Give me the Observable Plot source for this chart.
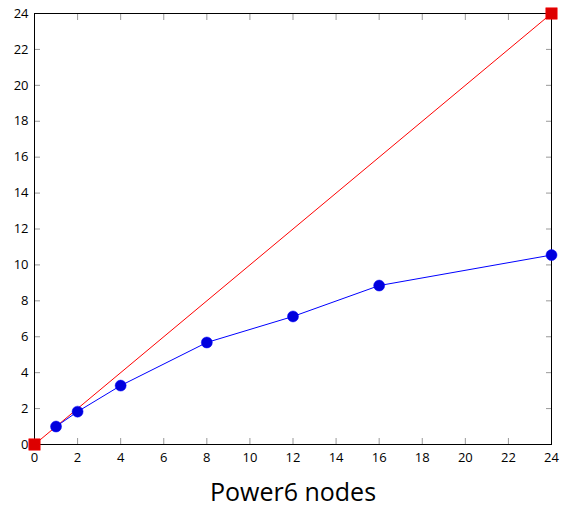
<!DOCTYPE html>
<html><head><meta charset="utf-8">
<script src="https://cdn.jsdelivr.net/npm/d3@7"></script>
<script src="https://cdn.jsdelivr.net/npm/@observablehq/plot@0.6"></script>
<style>
body{margin:0;background:#fff;}
svg{font-family:"Open Sans",sans-serif;}
</style>
</head><body><div id="chart"></div>
<script>
const nodes = [1, 2, 4, 8, 12, 16, 24];
const speedup = [1.0, 1.83, 3.28, 5.68, 7.13, 8.85, 10.55];
const idealX = [0, 24];
const idealY = [0, 24];
const xTicks = [0,2,4,6,8,10,12,14,16,18,20,22,24];
const yTicks = [0,2,4,6,8,10,12,14,16,18,20,22,24];

const measured = nodes.map((n,i)=>({x:n, y:speedup[i]}));
const ideal = idealX.map((n,i)=>({x:n, y:idealY[i]}));

const plot = Plot.plot({
  width: 562, height: 507,
  marginLeft: 34, marginRight: 11, marginTop: 13, marginBottom: 63,
  x: {domain:[0,24]},
  y: {domain:[0,24]},
  style: {fontSize: "13px", color:"#000", background:"#fff"},
  marks: [
    Plot.axisX({anchor:"bottom", ticks:xTicks, tickSize:-6, stroke:"#999", text:null, label:null}),
    Plot.axisX({anchor:"top", ticks:xTicks, tickSize:-6, stroke:"#999", text:null, label:null}),
    Plot.axisY({anchor:"left", ticks:yTicks, tickSize:-6, stroke:"#999", text:null, label:null}),
    Plot.axisY({anchor:"right", ticks:yTicks, tickSize:-6, stroke:"#999", text:null, label:null}),
    Plot.axisX({anchor:"bottom", ticks:xTicks, tickSize:0, tickPadding:8, fontSize:13, label:"Power6 nodes", labelAnchor:"center", labelArrow:"none", labelOffset:56}),
    Plot.axisY({anchor:"left", ticks:yTicks, tickSize:0, tickPadding:6, fontSize:13, label:null}),
    Plot.frame({stroke:"#000", strokeWidth:1}),
    Plot.line(ideal, {x:"x", y:"y", stroke:"#ff0000", strokeWidth:1}),
    Plot.line(measured, {x:"x", y:"y", stroke:"#0000ff", strokeWidth:1}),
    Plot.dot(measured, {x:"x", y:"y", r:5.5, fill:"#0000dd", stroke:"#0000ff", strokeWidth:0.5}),
    Plot.dot(ideal, {x:"x", y:"y", symbol:"square", r:6.5, fill:"#dd0000", stroke:"#ff0000", strokeWidth:0.5})
  ]
});
d3.select(plot).selectAll('[aria-label="x-axis label"] text').style("font-size","25px");
document.getElementById("chart").appendChild(plot);
</script>
</body></html>
